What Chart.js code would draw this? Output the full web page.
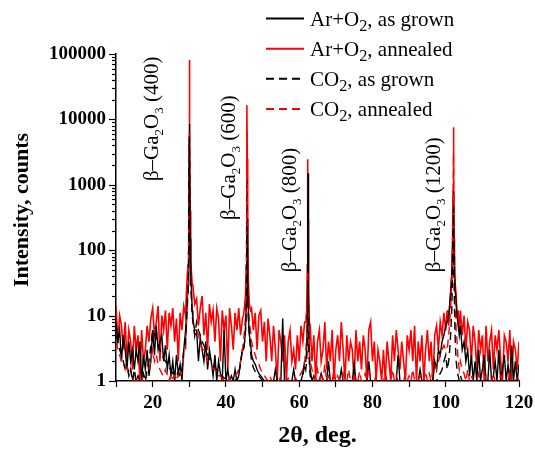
<!DOCTYPE html>
<html><head><meta charset="utf-8">
<script src="https://cdn.jsdelivr.net/npm/chart.js@4/dist/chart.umd.min.js"></script>
<style>html,body{margin:0;padding:0;background:#fff}#wrap{width:535px;height:450px}</style>
</head><body><div id="wrap"><canvas id="c" width="535" height="450"></canvas></div>
<script>
// 2θ grid (deg.)
const twoTheta = [
10,10.5,11,11.5,12,12.5,13,13.5,14,14.5,
15,15.5,16,16.5,17,17.5,18,18.5,19,19.5,
20,20.5,21,21.5,22,22.5,23,23.5,24,24.5,
25,25.5,26,26.5,27,27.5,28,28.5,
29,29.25,29.5,29.7,29.85,29.95,30.03,30.12,30.25,30.4,30.6,30.8,31,31.25,31.5,
32,32.5,33,33.5,34,34.5,35,35.5,36,36.5,
37,37.5,38,38.5,39,39.5,40,40.5,41,41.5,
42,42.5,43,43.5,44,44.5,
44.8,45.1,45.35,45.55,45.68,45.75,45.83,45.95,46.15,46.4,46.7,
47,47.5,48,48.5,49,49.5,50,50.5,51,51.5,
52,52.5,53,53.5,54,54.5,55,55.5,56,56.5,
57,57.5,58,58.5,59,59.5,60,60.5,61,61.5,
61.8,62.05,62.22,62.3,62.36,62.42,62.55,62.75,
63,63.5,64,64.5,65,65.5,66,66.5,67,67.5,
68,68.5,69,69.5,70,70.5,71,71.5,72,72.5,
73,73.5,74,74.5,75,75.5,76,76.5,77,77.5,
78,78.5,79,79.5,80,80.5,81,81.5,82,82.5,
83,83.5,84,84.5,85,85.5,86,86.5,87,87.5,
88,88.5,89,89.5,90,90.5,91,91.5,92,92.5,
93,93.5,94,94.5,95,95.5,96,96.5,97,97.5,
98,98.5,99,99.5,100,
100.4,100.8,101.1,101.4,101.65,101.85,102,102.12,102.2,102.28,102.4,102.6,102.85,103.1,103.4,103.7,
104,104.5,105,105.5,106,106.5,107,107.5,108,108.5,
109,109.5,110,110.5,111,111.5,112,112.5,113,113.5,
114,114.5,115,115.5,116,116.5,117,117.5,118,118.5,
119,119.5,120
];

// Ar+O2, as grown (black solid)
const arO2Grown = [
8,4,6,2,5,3,1.5,4,2,3,
1.5,3,2,4,1,2.5,1.5,3,1.2,2,
6,2.5,7,3,4,5,2,3.5,1.5,2.5,
1.2,2,1,2.5,1.3,1.8,1,3,
6,10,20,30,150,2000,8500,1500,150,40,25,12,9,7,6,
6,2,4.5,3,2,4,1.5,3,2,1.2,
2.5,1,2,1.3,1,6,1,1.5,1,1.2,
1,1.5,1,1.2,2,3,
3,4,6,15,200,1250,300,40,10,5,4,
2.5,2,1.8,1.5,1.3,1.2,1.1,1,1,1,
1,1,1,1.5,1,1,1,9,1,1,
1,1,1,1.5,1,1,1,1,1.3,2,
2,3,10,60,300,1500,20,3,
1.5,1,1.2,1,1,1,1.3,1,1,1,
2,1,1,1,1,1,1,1.5,1,1,
1,1,1,1,1.8,1,1,1,1,1,
1,1,2,1,1,1,1,1,1,1,
1,1,1,1,1,1,1,1,2.5,1,
1,1,1,1,1,1,1,1,1,1,
1.5,1,1,1,1,1,1,1,2,1.5,
3,2.5,4,5,7,
8,10,15,25,45,100,250,800,300,80,40,25,15,10,7,5,
7,3,4,2,3,1.2,2.5,1,2,1,
3,1,1.5,2.5,1,1,3,1,1.2,2,
1,3,1,1.5,2.5,1,1.8,1,3.5,1,
2,1,1.8
];

// Ar+O2, annealed (red solid)
const arO2Annealed = [
14,4,10,7,3,8,2,6,4,1.5,
7,3,5,1,6,2,3,7,4,9,
13,5,8,14,2,10,6,12,3,11,
7,13,4,9,2,11,6,14,
10,25,45,60,300,5000,81000,6000,400,70,45,30,28,20,15,
18,7,13,20,5,11,3,15,8,12,
4,13,9,2,12,6,10,1.5,13,7,
3,11,6,13,5,9,
10,14,20,60,1200,16500,2500,150,30,15,12,
13,6,11,3,10,12,4,8,2,9,
5,2,7,3,1,6,4,2,5,1,
4,6,2,3,1.5,5,2,7,4,8,
8,12,60,400,2450,300,25,8,
7,2,5,1,4,6,2,3,8,1.5,
4,2,6,1,3,5,2,8,3,1,
5,2,4,3,1,6,2,4,1.5,5,
3,1,6,8,2,4,1,3,2,1,
3,1,4,2,1,5,2,6,3,1.5,
4,2,1,5,3,6,2,7,1,4,
2,5,1,3,6,2,4,1,5,7,
3,8,5,11,6,
12,7,15,25,40,120,800,7600,900,150,60,30,20,9,12,6,
12,5,10,3,8,6,2,7,4,1.5,
6,3,5,1,7,2,4,6,1.5,5,
3,6,2,1,5,4,2,6,1,4,
3,1.5,4
];

// CO2, as grown (black dashed)
const co2Grown = [
5,4,3,2.5,2,1.5,2,1.2,1.5,1,
1.5,1,1.2,1,1,1.3,1,1.5,2,3.5,
6,5,4.5,3.5,3,2.5,2.2,2,1.8,1.6,
1.5,1.3,1.3,1.2,1.4,1.2,1.5,3,
4,8,15,25,120,1500,5500,1200,120,30,18,10,8,7,5,
8,6,5,4,3.5,3,2.5,2.2,2,1.8,
1.6,1.5,1.4,1.3,1.2,1.1,1.1,1,1,1,
1,1,1.1,1.3,1.8,3,
3,4,6,12,80,230,80,20,8,5,3,
2,1.6,1.4,1.3,1.2,1.1,1,1,1,1,
1,1,1,1,1,1,1,1,1,1,
1,1,1,1,1,1,1,1,1.2,1.8,
1.5,2,4,12,35,15,4,2,
1.2,1,1,1,1,1,1,1,1,1,
1,1,1,1,1,1,1,1,1,1,
1,1,1,1,1,1,1,1,1,1,
1,1,1,1,1,1,1,1,1,1,
1,1,1,1,1,1,1,1,1,1,
1,1,1,1,1,1,1,1,1,1,
1,1,1,1,1,1,1,1,1,1,
1.2,1.3,1.5,2,2.5,
1.5,2,3,6,12,40,150,450,150,40,12,4,2,1.5,1.2,1,
1.2,1,1,1,1,1,1,1,1,1,
1,1,1,1,1,1,1,1,1,1,
1,1,1,1,1,1,1,1,1,1,
1,1,1
];

// CO2, annealed (red dashed)
const co2Annealed = [
4,3,2.5,2,2,1.5,1.8,1.2,1.5,1,
1.3,1,1.2,1,1,1.2,1,1.3,1.5,2,
3,2,2.5,1.8,1.5,1.3,1.2,1.5,1.2,1,
1.3,1.1,1.2,1,1.3,1.1,1.5,2.5,
3,8,20,30,150,1800,6500,1500,150,40,20,12,8,6,5,
6,5,4,3,3,2.5,2,2,1.8,1.5,
1.5,1.3,1.2,1.2,1.1,1,1,1,1.1,1,
1,1.2,1.3,1.5,2,3,
4,6,10,30,800,6600,1000,60,15,8,6,
4,3,2.5,2,1.8,1.5,1.3,1.2,1.1,1,
1.2,1,1,1.1,1,1,1.2,1,1,1,
1.1,1,1,1,1.1,1,1.2,1.3,1.5,2,
3,5,10,25,45,20,6,3,
2,1.5,1.2,1,1.5,1,1.3,1,1.8,1,
1.2,1,1,1.5,1,1.2,1,1,1.3,1,
1,1.5,1,1,1.2,1,1,1.4,1,1,
1.3,1,1.6,1,1,1,1.2,1,1,1,
1,1.3,1,1,1,1.5,1,1.2,1,1,
1,1,1.3,1,1.2,1,1.5,1,1,1,
1.2,1,1,1.4,1,1.3,1,1.5,1.8,1.5,
2,2.5,3,3.5,3,
3,5,8,15,30,100,700,3000,600,100,30,12,6,4,2,1.5,
2,1.5,1.3,1,1.5,1,1.2,1,1,1,
1.3,1,1,1,1.2,1,1,1,1.3,1,
1,1,1.2,1,1,1,1,1.3,1,1,
1,1.2,1
];

const seriesLabels = ['Ar+O\u2082, as grown', 'Ar+O\u2082, annealed', 'CO\u2082, as grown', 'CO\u2082, annealed'];
const yTickValues = [1, 10, 100, 1000, 10000, 100000];
const xTickLabels = [20, 40, 60, 80, 100, 120];
const yAxisTitle = 'Intensity, counts';
const peakHkl = ['(400)', '(600)', '(800)', '(1200)'];
const peakLabelX = [21.6, 42.4, 59.1, 98.4];     // anchor (baseline) in 2θ
const peakLabelY = [1140, 290, 46, 46];          // anchor (text start) in counts

[arO2Grown, arO2Annealed, co2Grown, co2Annealed].forEach((a, i) => {
  if (a.length !== twoTheta.length) console.error('length mismatch', i, a.length, twoTheta.length);
});

const F = "'Liberation Serif','Times New Roman',serif";
const pts = ys => twoTheta.map((x, i) => ({x, y: ys[i]}));

function drawRich(ctx, parts, size, subScale, subDrop) {
  let x = 0;
  for (const p of parts) {
    const fs = p.sub ? size * subScale : size;
    ctx.font = `${fs}px ${F}`;
    ctx.fillText(p.t, x, p.sub ? subDrop : 0);
    x += ctx.measureText(p.t).width;
  }
}
function splitSub(label) {
  const parts = [];
  label.split('\u2082').forEach((s, i, arr) => {
    if (s) parts.push({t: s});
    if (i < arr.length - 1) parts.push({t: '2', sub: true});
  });
  return parts;
}

const decorPlugin = {
  id: 'decor',
  afterDraw(chart) {
    const ctx = chart.ctx;
    const xs = chart.scales.x, ys = chart.scales.y;
    const left = chart.chartArea.left;
    // y axis ticks (major and minor)
    ctx.save();
    ctx.strokeStyle = '#000';
    ctx.lineWidth = 1.2;
    for (let d = 1; d <= 100000; d *= 10) {
      for (let m = 1; m <= 9; m++) {
        const v = d * m;
        if (v > 100000) break;
        const py = Math.round(ys.getPixelForValue(v)) + 0.5;
        const len = m === 1 ? 7 : 4;
        ctx.beginPath(); ctx.moveTo(left, py); ctx.lineTo(left - len, py); ctx.stroke();
      }
    }
    ctx.restore();
    // y axis title
    ctx.save();
    ctx.fillStyle = '#000';
    ctx.font = `bold 22px ${F}`;
    ctx.textAlign = 'center';
    ctx.textBaseline = 'middle';
    ctx.translate(22, 210);
    ctx.rotate(-Math.PI / 2);
    ctx.fillText(yAxisTitle, 0, 0);
    ctx.restore();
    // peak labels
    ctx.save();
    ctx.fillStyle = '#000';
    ctx.textBaseline = 'alphabetic';
    peakHkl.forEach((h, i) => {
      const px = xs.getPixelForValue(peakLabelX[i]);
      const py = ys.getPixelForValue(peakLabelY[i]);
      ctx.save();
      ctx.translate(px, py);
      ctx.rotate(-Math.PI / 2);
      drawRich(ctx, [{t: 'β–Ga'}, {t: '2', sub: true}, {t: 'O'}, {t: '3', sub: true}, {t: ' ' + h}], 21, 0.62, 5);
      ctx.restore();
    });
    ctx.restore();
    // legend
    ctx.save();
    chart.data.datasets.forEach((ds, i) => {
      const base = 25.6 + i * 30.1;
      const ly = base - 7;
      ctx.strokeStyle = ds.borderColor;
      ctx.lineWidth = 2;
      ctx.setLineDash(ds.borderDash || []);
      ctx.beginPath(); ctx.moveTo(266, ly); ctx.lineTo(304, ly); ctx.stroke();
      ctx.setLineDash([]);
      ctx.fillStyle = '#000';
      ctx.textBaseline = 'alphabetic';
      ctx.save();
      ctx.translate(310, base);
      drawRich(ctx, splitSub(ds.label), 21, 0.78, 5);
      ctx.restore();
    });
    ctx.restore();
  }
};

const common = {pointRadius: 0, borderWidth: 1.4, tension: 0, fill: false};
new Chart(document.getElementById('c'), {
  type: 'line',
  data: {
    datasets: [
      {...common, label: seriesLabels[0], data: pts(arO2Grown), borderColor: '#000000', order: 2},
      {...common, label: seriesLabels[1], data: pts(arO2Annealed), borderColor: '#ff0000', borderWidth: 1.6, order: 3},
      {...common, label: seriesLabels[2], data: pts(co2Grown), borderColor: '#000000', borderDash: [8, 5], order: 0},
      {...common, label: seriesLabels[3], data: pts(co2Annealed), borderColor: '#ff0000', borderDash: [8, 5], order: 1}
    ]
  },
  options: {
    responsive: false,
    animation: false,
    events: [],
    layout: {padding: {top: 54, right: 16, left: 0, bottom: 0}},
    plugins: {legend: {display: false}, tooltip: {enabled: false}},
    scales: {
      x: {
        type: 'linear', min: 10, max: 120,
        ticks: {stepSize: 10, autoSkip: false, maxRotation: 0, color: '#000', padding: 5,
          font: {family: F, size: 19, weight: 'bold'},
          callback: v => xTickLabels.includes(v) ? String(v) : ''},
        grid: {display: true, drawOnChartArea: false, drawTicks: true, tickLength: 6, tickColor: '#000', tickWidth: 1.2, color: '#000'},
        border: {display: true, color: '#000', width: 1.5},
        title: {display: true, text: '2θ, deg.', color: '#000', font: {family: F, size: 24, weight: 'bold'}, padding: {top: 0, bottom: 0}},
        afterFit: s => { s.height = 69; s.paddingLeft = 0; s.paddingRight = 0; }
      },
      y: {
        type: 'logarithmic', min: 1, max: 100000,
        ticks: {autoSkip: false, color: '#000', padding: 3,
          font: {family: F, size: 19, weight: 'bold'},
          callback: v => yTickValues.includes(Math.round(v)) && Math.abs(v - Math.round(v)) < 1e-6 ? String(Math.round(v)) : ''},
        grid: {display: true, drawOnChartArea: false, drawTicks: true, tickLength: 7, tickColor: 'rgba(0,0,0,0)', color: 'rgba(0,0,0,0)'},
        border: {display: true, color: '#000', width: 1.5},
        title: {display: false},
        afterFit: s => { s.width = 116; }
      }
    }
  },
  plugins: [decorPlugin]
});
</script>
</body></html>
